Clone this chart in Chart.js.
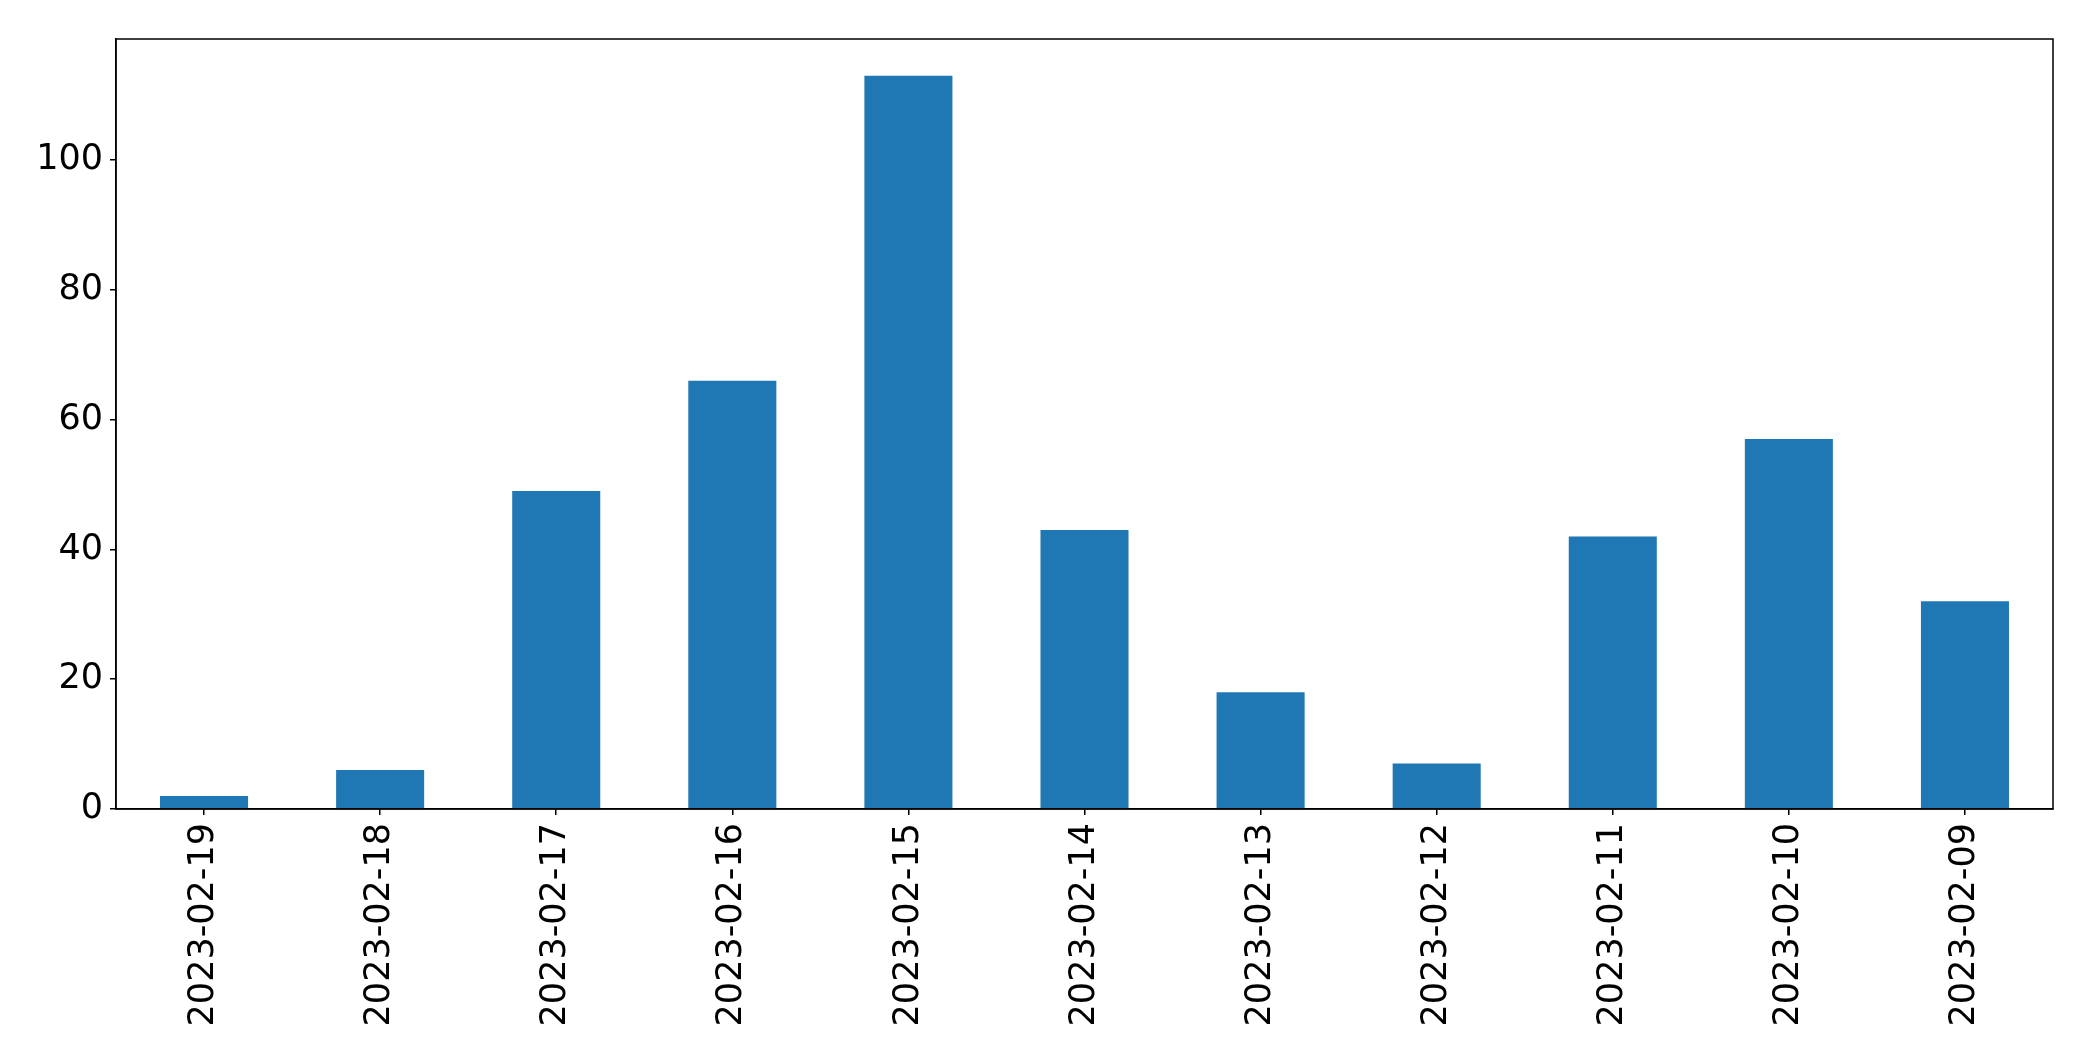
<!DOCTYPE html>
<html>
<head>
<meta charset="utf-8">
<script src="https://cdn.jsdelivr.net/npm/chart.js@4"></script>
<style>
  body { margin: 0; background: #fff; }
  canvas { display: block; }
</style>
</head>
<body>
<canvas id="chart" width="2093" height="1061"></canvas>
<script>
// Dates as they appear on the x axis (newest first)
const dates = [
  '2023-02-19', '2023-02-18', '2023-02-17', '2023-02-16', '2023-02-15', '2023-02-14',
  '2023-02-13', '2023-02-12', '2023-02-11', '2023-02-10', '2023-02-09'
];
// Counts per day
const counts = [2, 6, 49, 66, 113, 43, 18, 7, 42, 57, 32];
// Y axis tick values
const yTicks = [0, 20, 40, 60, 80, 100];

// draws the full box round the plot area
const frame = {
  id: 'frame',
  afterDraw(chart) {
    const { ctx, chartArea: a } = chart;
    ctx.save();
    ctx.strokeStyle = '#000';
    ctx.lineWidth = 1.5;
    ctx.strokeRect(a.left, a.top, a.right - a.left, a.bottom - a.top);
    ctx.restore();
  }
};

const ctx = document.getElementById('chart').getContext('2d');
new Chart(ctx, {
  type: 'bar',
  data: {
    labels: dates,
    datasets: [{
      data: counts,
      backgroundColor: '#1f77b4',
      barPercentage: 0.5,
      categoryPercentage: 1.0
    }]
  },
  options: {
    responsive: false,
    animation: false,
    layout: { padding: { top: 39, right: 40, left: 0, bottom: 0 } },
    plugins: {
      legend: { display: false },
      tooltip: { enabled: false }
    },
    scales: {
      x: {
        offset: true,
        grid: { display: true, offset: false, drawOnChartArea: false, color: '#000', tickLength: 6, lineWidth: 1.5 },
        border: { display: true, color: '#000', width: 1.5 },
        ticks: {
          color: '#000',
          font: { family: 'DejaVu Sans', size: 35 },
          minRotation: 90,
          maxRotation: 90,
          padding: 8,
          autoSkip: false
        },
        afterFit(scale) { scale.height = 1061 - 809; }
      },
      y: {
        min: 0,
        max: 118.65,
        grid: { display: true, drawOnChartArea: false, color: '#000', tickLength: 6, lineWidth: 1.5 },
        border: { display: true, color: '#000', width: 1.5 },
        afterBuildTicks(scale) { scale.ticks = yTicks.map(v => ({ value: v })); },
        ticks: {
          color: '#000',
          font: { family: 'DejaVu Sans', size: 35 },
          padding: 7
        },
        afterFit(scale) { scale.width = 116; }
      }
    }
  },
  plugins: [frame]
});
</script>
</body>
</html>
